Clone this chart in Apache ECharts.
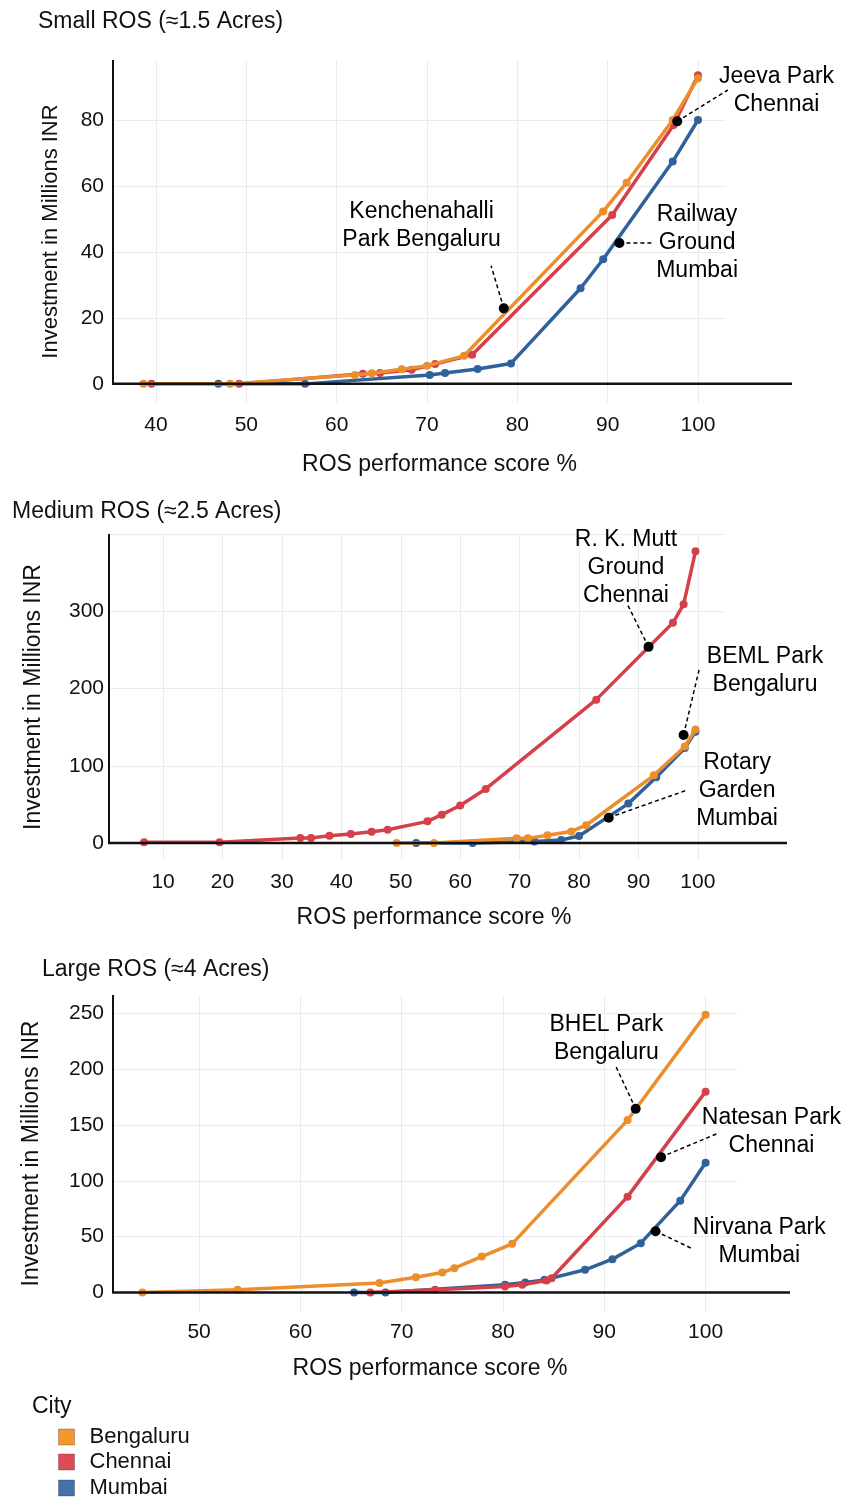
<!DOCTYPE html>
<html>
<head>
<meta charset="utf-8">
<script src="https://cdn.jsdelivr.net/npm/echarts@6/dist/echarts.min.js"></script>
<style>
html,body{margin:0;padding:0;background:#fff;}
#chart{width:856px;height:1498px;}
</style>
</head>
<body>
<div id="chart"></div>
<script>
// ---------- data ----------
const cities = ['Bengaluru', 'Chennai', 'Mumbai'];
const panelTitles = ['Small ROS (≈1.5 Acres)', 'Medium ROS (≈2.5 Acres)', 'Large ROS (≈4 Acres)'];
const xAxisName = 'ROS performance score %';
const yAxisName = 'Investment in Millions INR';
const legendTitle = 'City';

// Small ROS: [score %, investment]
const smallBengaluru = [[38.6,0],[48.2,0],[62.0,2.7],[63.9,3.2],[67.2,4.4],[70.0,5.5],[74.1,8.5],[89.5,52.3],[92.1,61.0],[97.2,80.0],[100,92.7]];
const smallChennai   = [[39.5,0],[49.2,0],[62.9,3.1],[64.8,3.3],[68.3,4.3],[70.9,6.0],[75.0,8.8],[90.5,51.2],[97.3,78.5],[100,93.6]];
const smallMumbai    = [[46.9,0],[56.5,0],[70.3,2.7],[72.0,3.3],[75.6,4.5],[79.3,6.2],[87.0,29.0],[89.5,37.8],[97.2,67.4],[100,80.0]];

// Medium ROS
const mediumBengaluru = [[49.3,0],[55.6,0],[69.5,6],[71.4,6],[74.7,10],[78.7,15],[81.2,23],[92.6,87.6],[97.8,125],[99.6,147]];
const mediumChennai   = [[6.8,1],[19.5,1],[33.1,6.5],[34.9,6.5],[38.0,9.5],[41.6,11.6],[45.1,14.6],[47.8,17.2],[54.5,28],[56.9,36.7],[60.0,48.5],[64.3,70],[82.9,185.6],[95.8,285],[97.6,309],[99.6,377.6]];
const mediumMumbai    = [[52.6,0],[62.1,0],[72.5,2],[77.0,4],[80.0,9],[88.3,51],[93.0,85],[97.8,123],[99.6,144]];

// Large ROS
const largeBengaluru = [[44.4,0],[53.8,2.4],[67.8,8.4],[71.4,13.7],[74.0,17.9],[75.2,21.8],[77.9,32.2],[80.9,43.6],[92.3,154.5],[100,249]];
const largeChennai   = [[66.9,0],[73.3,2.4],[80.2,5.4],[81.9,6.9],[84.3,10.7],[84.8,12.8],[92.3,85.9],[100,180]];
const largeMumbai    = [[65.3,0],[68.4,0],[80.2,6.9],[82.2,9.0],[84.1,11.3],[88.1,20.3],[90.8,29.8],[93.6,44.2],[97.5,82.3],[100,116.3]];

// Annotations (data coordinates): dot, leader end, label centre
const smallNotes = [
  {text:'Kenchenahalli\nPark Bengaluru', dot:[78.5,22.9], end:[77.1,35.8], at:[69.4,47.9]},
  {text:'Jeeva Park\nChennai', dot:[97.7,79.6], end:[103.3,89.1], at:[108.7,88.9]},
  {text:'Railway\nGround\nMumbai', dot:[91.3,42.7], end:[94.9,42.7], at:[99.9,42.7]}
];
const mediumNotes = [
  {text:'R. K. Mutt\nGround\nChennai', dot:[91.7,253.9], end:[88.2,308], at:[87.9,356]},
  {text:'BEML Park\nBengaluru', dot:[97.6,139.9], end:[100.2,224], at:[111.3,222.8]},
  {text:'Rotary\nGarden\nMumbai', dot:[85.0,32.8], end:[97.9,67.7], at:[106.6,67.4]}
];
const largeNotes = [
  {text:'BHEL Park\nBengaluru', dot:[93.1,164.6], end:[91.1,203.4], at:[90.2,227.6]},
  {text:'Natesan Park\nChennai', dot:[95.6,121.3], end:[101.1,142.2], at:[106.5,144]},
  {text:'Nirvana Park\nMumbai', dot:[95.06,54.9], end:[98.7,39.2], at:[105.3,45.7]}
];

// axis ranges
const xRanges = [[35.24,103.1],[0.9,104.4],[41.5,103.1]];
const yRanges = [[-5.8,98.2],[-22,400],[-17.5,266.6]];
const xSplit = [7,10,6];

// ---------- styling ----------
const FONT = "'Liberation Sans', Arial, Helvetica, sans-serif";
const colors = {Bengaluru:'#EC8E2C', Chennai:'#D4414A', Mumbai:'#30619A'};
const legendColors = {Bengaluru:'#F5962F', Chennai:'#DE4B55', Mumbai:'#4572A8'};

const grids = [
  {left:113, top:60, width:613, height:343},
  {left:109, top:534, width:615, height:326},
  {left:113, top:995, width:624, height:317}
];
const titlePos = [{left:38, top:10.5},{left:12, top:500.5},{left:42, top:958.5}];
const yNameGap = [51, 64, 70];
const yNameSize = [22, 23, 23];
const yLabelMargin = [9, 5, 9];
const xLabelMargin = [12, 12, 10];
const xNameGap = [50, 46, 45];
const xNamePad = [40, 35, 10];
const axisRightEnd = [792, 787, 790];
const legendTops = [1426, 1451, 1477];

const panelData = [
  {Bengaluru:smallBengaluru, Chennai:smallChennai, Mumbai:smallMumbai, notes:smallNotes},
  {Bengaluru:mediumBengaluru, Chennai:mediumChennai, Mumbai:mediumMumbai, notes:mediumNotes},
  {Bengaluru:largeBengaluru, Chennai:largeChennai, Mumbai:largeMumbai, notes:largeNotes}
];

const xAxes = [], yAxes = [], series = [], titles = [];
const isTen = v => Math.abs(v/10 - Math.round(v/10)) < 1e-6;

grids.forEach((g, i) => {
  titles.push({text: panelTitles[i], left: titlePos[i].left, top: titlePos[i].top, padding: 0,
    textStyle:{fontFamily:FONT, fontSize:23, fontWeight:'normal', color:'#111'}});
  xAxes.push({
    type:'value', gridIndex:i, min:xRanges[i][0], max:xRanges[i][1], splitNumber:xSplit[i],
    name:xAxisName, nameLocation:'middle', nameGap:xNameGap[i],
    nameTextStyle:{fontFamily:FONT, fontSize:23, color:'#111', padding:[0,0,0,xNamePad[i]]},
    axisLine:{show:false, onZero:false}, axisTick:{show:false},
    axisLabel:{fontFamily:FONT, fontSize:21, color:'#111', margin:xLabelMargin[i],
      showMinLabel:false, showMaxLabel:false,
      formatter: v => isTen(v) ? String(Math.round(v)) : ''},
    splitLine:{show:true, showMinLine:false, showMaxLine:false, lineStyle:{color:'#ebebeb', width:1}}
  });
  yAxes.push({
    type:'value', gridIndex:i, min:yRanges[i][0], max:yRanges[i][1],
    name:yAxisName, nameLocation:'middle', nameGap:yNameGap[i], nameRotate:90,
    nameTextStyle:{fontFamily:FONT, fontSize:yNameSize[i], color:'#111'},
    axisLine:{show:false}, axisTick:{show:false},
    axisLabel:{fontFamily:FONT, fontSize:21, color:'#111', margin:yLabelMargin[i],
      showMinLabel:false, showMaxLabel:false,
      formatter: v => (isTen(v) && v >= 0) ? String(Math.round(v)) : ''},
    splitLine:{show:true, showMinLine:false, showMaxLine:(i===1), lineStyle:{color:'#ebebeb', width:1}}
  });
  const p = panelData[i];
  ['Mumbai','Chennai','Bengaluru'].forEach((c, k) => {
    series.push({
      name:c, type:'line', xAxisIndex:i, yAxisIndex:i, data:p[c],
      symbol:'circle', symbolSize:8, showSymbol:true,
      lineStyle:{color:colors[c], width:3.5},
      itemStyle:{color:colors[c]},
      z: 2 + k, clip:false
    });
  });
  // leader lines
  series.push({
    type:'lines', coordinateSystem:'cartesian2d', xAxisIndex:i, yAxisIndex:i, polyline:false, clip:false,
    silent:true, z:8,
    lineStyle:{color:'#000', width:1.5, type:[4,3], opacity:1},
    data: p.notes.map(n => ({coords:[n.dot, n.end]}))
  });
  // dots
  series.push({
    type:'scatter', xAxisIndex:i, yAxisIndex:i, symbol:'circle', symbolSize:10, clip:false, z:9,
    itemStyle:{color:'#000', opacity:1}, silent:true,
    data: p.notes.map(n => n.dot)
  });
  // texts
  series.push({
    type:'scatter', xAxisIndex:i, yAxisIndex:i, symbolSize:0, clip:false, z:10, silent:true,
    itemStyle:{opacity:1},
    label:{show:true, position:'inside', formatter: prm => prm.data.name, opacity:1,
      fontFamily:FONT, fontSize:23, lineHeight:28, color:'#000', align:'center'},
    data: p.notes.map(n => ({name:n.text, value:n.at}))
  });
});

titles.push({text:legendTitle, left:32, top:1395, padding:0,
  textStyle:{fontFamily:FONT, fontSize:23, fontWeight:'normal', color:'#111'}});

const legends = cities.map((c, k) => ({
  orient:'vertical', left:58, top:legendTops[k], padding:0, itemWidth:16, itemHeight:16,
  selectedMode:false,
  textStyle:{fontFamily:FONT, fontSize:22, color:'#111', padding:[0,0,0,10]},
  data:[{name:c, icon:'rect',
    itemStyle:{color:legendColors[c], borderColor:'rgba(0,0,0,0.25)', borderWidth:1}}]
}));

const chart = echarts.init(document.getElementById('chart'), null, {renderer:'canvas'});
chart.setOption({
  backgroundColor:'#fff',
  animation:false,
  title:titles,
  grid:grids,
  xAxis:xAxes,
  yAxis:yAxes,
  legend:legends,
  series:series
});

// axis lines drawn at y = 0 (x-axis) and x = min from 0 to top (y-axis)
const graphics = [];
grids.forEach((g, i) => {
  const p0 = chart.convertToPixel({gridIndex:i}, [xRanges[i][0], 0]);
  const pTop = chart.convertToPixel({gridIndex:i}, [xRanges[i][0], yRanges[i][1]]);
  graphics.push({type:'line', z:50, shape:{x1:p0[0], y1:pTop[1], x2:p0[0], y2:p0[1]},
    style:{stroke:'#111', lineWidth:2}});
  graphics.push({type:'line', z:50, shape:{x1:p0[0]-1, y1:p0[1], x2:axisRightEnd[i], y2:p0[1]},
    style:{stroke:'#111', lineWidth:2.5}});
});
chart.setOption({graphic:graphics});
</script>
</body>
</html>
